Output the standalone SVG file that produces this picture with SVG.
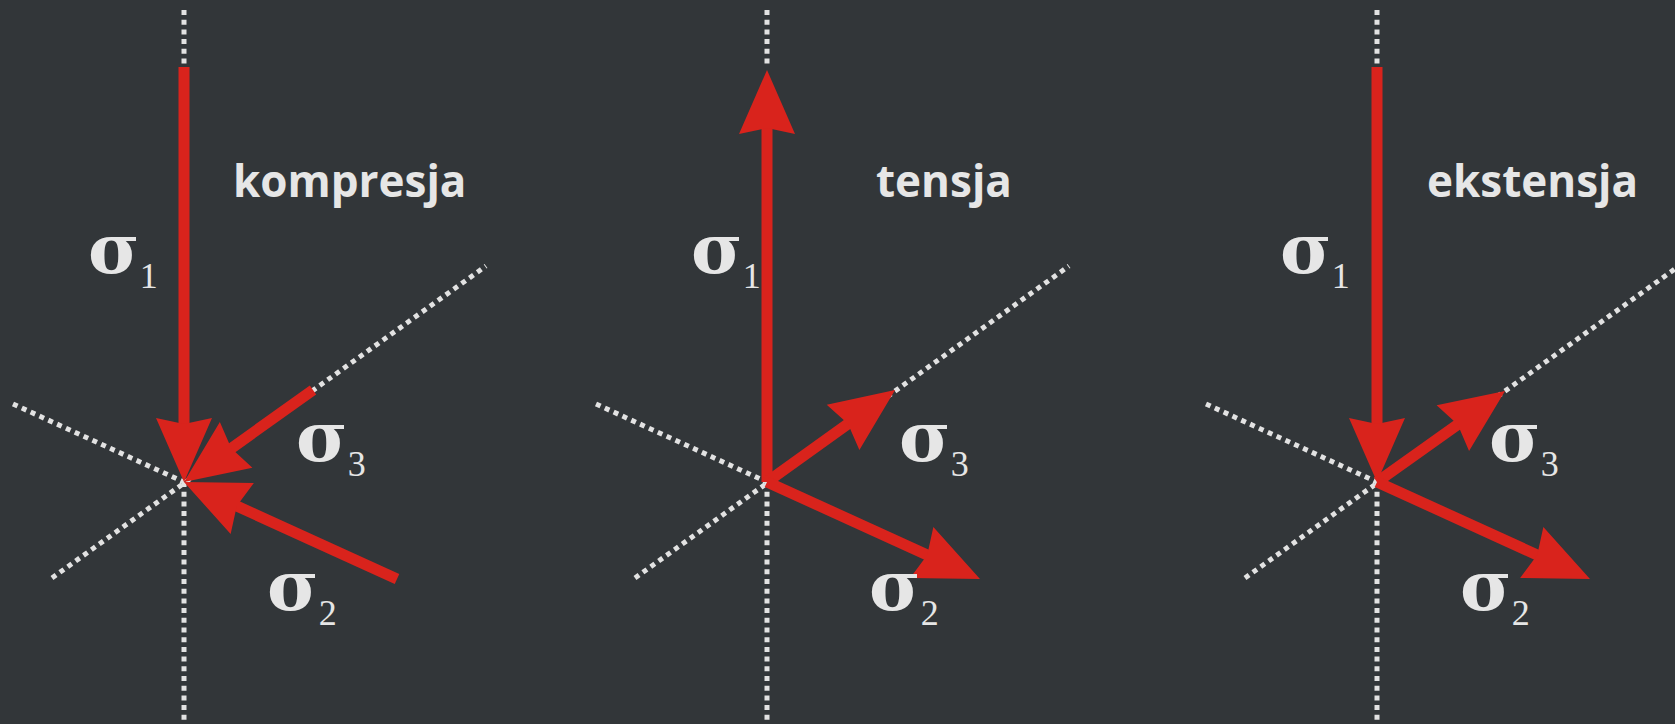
<svg xmlns="http://www.w3.org/2000/svg" width="1675" height="724" viewBox="0 0 1675 724">
<style>
.bg{fill:#323639}
.dot{stroke:#e2e2e2;stroke-width:5;stroke-dasharray:5 4.7;fill:none}
.arr{stroke:#d9231c;stroke-width:11;fill:none;marker-end:url(#ah)}
.title{font-family:"Open Sans","Liberation Sans",sans-serif;font-weight:700;font-size:44px;fill:#e6e6e6}
.sig{font-family:"DejaVu Serif","Liberation Serif",serif;font-weight:700;font-size:70px;fill:#e6e6e6}
.sub{font-family:"Liberation Serif","DejaVu Serif",serif;font-weight:400;font-size:36px}
</style>
<defs>
<marker id="ah" markerUnits="userSpaceOnUse" viewBox="-70 -30 75 60" refX="-20" refY="0" markerWidth="75" markerHeight="60" orient="auto" overflow="visible">
<path d="M0,0 L-64,-28 L-58,0 L-64,28 Z" fill="#d9231c"/>
</marker>
</defs>
<rect class="bg" x="0" y="0" width="1675" height="724"/>

<g id="axes">
<line class="dot" x1="184" y1="10" x2="184" y2="65"/>
<line class="dot" x1="184" y1="482" x2="184" y2="724"/>
<line class="dot" x1="13" y1="404" x2="184" y2="482"/>
<line class="dot" x1="52" y1="578" x2="486" y2="266"/>

<line class="dot" x1="767" y1="10" x2="767" y2="66"/>
<line class="dot" x1="767" y1="482" x2="767" y2="724"/>
<line class="dot" x1="596" y1="404" x2="767" y2="482"/>
<line class="dot" x1="635" y1="578" x2="1069" y2="266"/>

<line class="dot" x1="1377" y1="10" x2="1377" y2="65"/>
<line class="dot" x1="1377" y1="482" x2="1377" y2="724"/>
<line class="dot" x1="1206" y1="404" x2="1377" y2="482"/>
<line class="dot" x1="1245" y1="578" x2="1679" y2="266"/>
</g>

<g id="connectors">
<line class="arr" x1="184" y1="67" x2="184" y2="462"/>
<line class="arr" x1="313" y1="390" x2="200.3" y2="470.4"/>
<line class="arr" x1="397" y1="579" x2="202.2" y2="490.3"/>

<line class="arr" x1="767" y1="482" x2="767" y2="90"/>
<line class="arr" x1="767" y1="482" x2="878.8" y2="401.7"/>
<line class="arr" x1="767" y1="482" x2="961.8" y2="570.7"/>

<line class="arr" x1="1377" y1="67" x2="1377" y2="462"/>
<line class="arr" x1="1377" y1="482" x2="1488.7" y2="402.6"/>
<line class="arr" x1="1377" y1="482" x2="1571.8" y2="570.7"/>
</g>

<g id="panel-kompresja">
<text class="title" x="233" y="197">kompresja</text>
<text class="sig" x="88" y="273">σ<tspan class="sub" dy="15">1</tspan></text>
<text class="sig" x="296" y="461">σ<tspan class="sub" dy="15">3</tspan></text>
<text class="sig" x="267" y="610">σ<tspan class="sub" dy="15">2</tspan></text>
</g>

<g id="panel-tensja">
<text class="title" x="876" y="197">tensja</text>
<text class="sig" x="691" y="273">σ<tspan class="sub" dy="15">1</tspan></text>
<text class="sig" x="899" y="461">σ<tspan class="sub" dy="15">3</tspan></text>
<text class="sig" x="869" y="610">σ<tspan class="sub" dy="15">2</tspan></text>
</g>

<g id="panel-ekstensja">
<text class="title" x="1427" y="197">ekstensja</text>
<text class="sig" x="1280" y="273">σ<tspan class="sub" dy="15">1</tspan></text>
<text class="sig" x="1489" y="461">σ<tspan class="sub" dy="15">3</tspan></text>
<text class="sig" x="1460" y="610">σ<tspan class="sub" dy="15">2</tspan></text>
</g>
</svg>
